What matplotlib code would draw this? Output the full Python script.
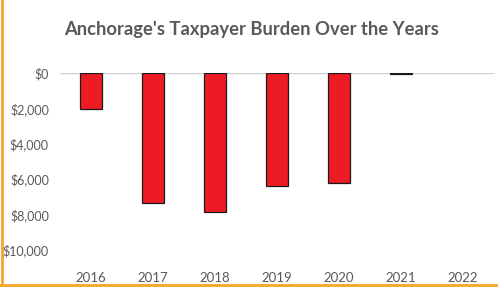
import matplotlib
matplotlib.use("Agg")
import matplotlib.pyplot as plt
from matplotlib.ticker import FuncFormatter

years = ["2016", "2017", "2018", "2019", "2020", "2021", "2022"]
burden = [-2050, -7350, -7850, -6400, -6200, -70, 0]
yticks = [0, -2000, -4000, -6000, -8000, -10000]

gray = "#595959"
fig = plt.figure(figsize=(4.98, 2.95), dpi=100)
ax = fig.add_axes([60/498, 1-250/295, (494-60)/498, (250-73)/295])

x = range(len(years))
ax.bar(x, burden, width=0.34, color="#ED1C24", edgecolor="#1a1a1a",
       linewidth=[0.9 if v != 0 else 0 for v in burden], zorder=3)
ax.set_xlim(-0.5, len(years) - 0.5)
ax.set_ylim(-10000, 0)
ax.set_yticks(yticks)
ax.yaxis.set_major_formatter(FuncFormatter(lambda v, p: "${:,.0f}".format(abs(v))))
ax.set_xticks(list(x))
ax.set_xticklabels(years)
for s in ax.spines.values():
    s.set_visible(False)
ax.axhline(0, color="#d0d0d0", linewidth=1, zorder=2)
ax.tick_params(length=0, labelcolor=gray)
ax.tick_params(axis="x", pad=16, labelsize=9.5)
ax.tick_params(axis="y", pad=8, labelsize=9)
for lab in ax.get_xticklabels() + ax.get_yticklabels():
    lab.set_family("Lato")

fig.text(252/498, 1-30/295, "Anchorage's Taxpayer Burden Over the Years", ha="center", va="center",
         fontsize=13.2, fontweight="bold", color=gray, family="Lato")

# orange frame on left and bottom
fig.add_artist(plt.Line2D([1.5/498, 1.5/498], [1-285/295, 1], transform=fig.transFigure, color="#F5A623", linewidth=2))
fig.add_artist(plt.Line2D([0, 1], [1-285/295, 1-285/295], transform=fig.transFigure, color="#F5A623", linewidth=2))

fig.savefig("out.png", dpi=100)
